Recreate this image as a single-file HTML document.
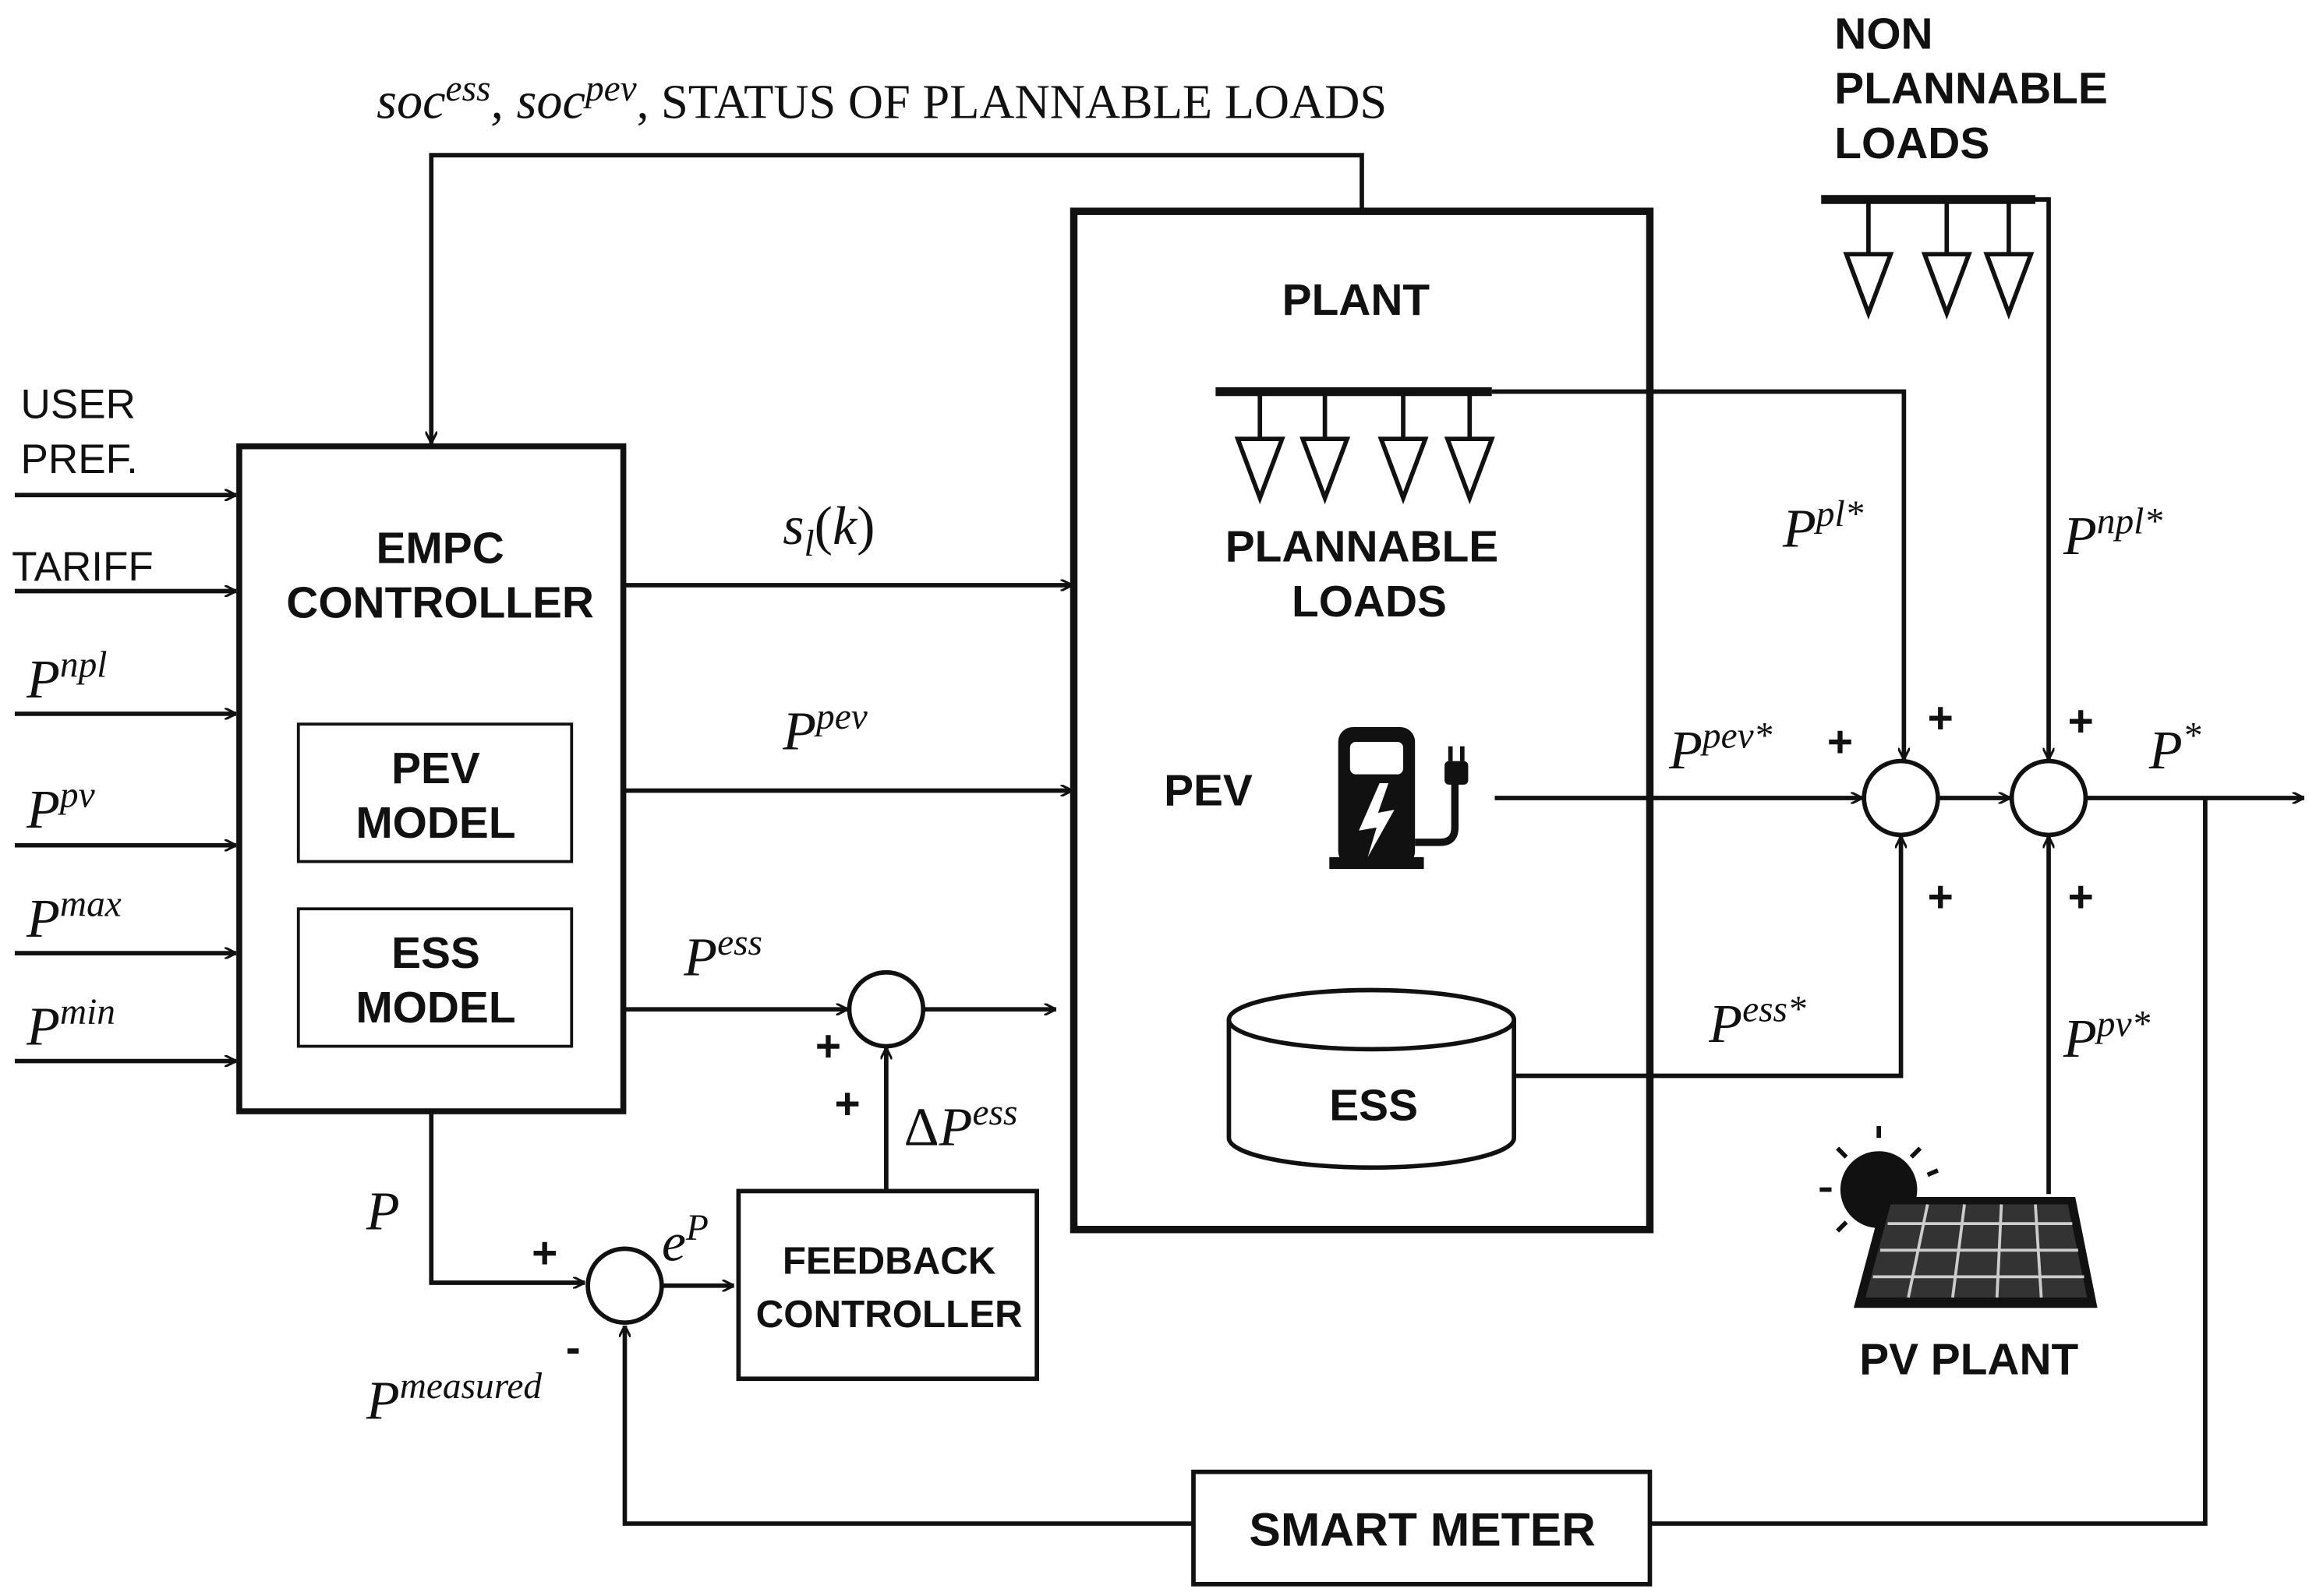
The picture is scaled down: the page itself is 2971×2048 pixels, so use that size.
<!DOCTYPE html>
<html><head><meta charset="utf-8"><style>
html,body{margin:0;padding:0;background:#fff;}
svg{display:block;}
.b{font-family:"Liberation Sans",sans-serif;font-weight:bold;font-size:30px;fill:#111;}
.s{font-family:"Liberation Sans",sans-serif;font-size:28px;fill:#111;}
.m{font-family:"Liberation Serif",serif;font-style:italic;font-size:37px;fill:#111;}
.sup{font-size:25px;}
.r{font-family:"Liberation Serif",serif;font-size:33px;fill:#111;}
</style></head><body>
<svg width="2971" height="2048" viewBox="0 0 1568 1080" preserveAspectRatio="none" xmlns="http://www.w3.org/2000/svg">
<defs>
<marker id="a" viewBox="0 0 10 10" refX="10" refY="5" markerWidth="8" markerHeight="8" orient="auto" markerUnits="userSpaceOnUse">
<path d="M0,0 L10,5 L0,10" fill="none" stroke="#111" stroke-width="2"/>
</marker>
</defs>
<rect width="1568" height="1080" fill="#fff"/>
<g stroke="#111" stroke-width="3" fill="none">
<polyline points="922,143 922,105 292,105 292,300" marker-end="url(#a)"/>
<line x1="10" y1="335" x2="160" y2="335" marker-end="url(#a)"/>
<line x1="10" y1="400" x2="160" y2="400" marker-end="url(#a)"/>
<line x1="10" y1="483" x2="160" y2="483" marker-end="url(#a)"/>
<line x1="10" y1="572" x2="160" y2="572" marker-end="url(#a)"/>
<line x1="10" y1="645" x2="160" y2="645" marker-end="url(#a)"/>
<line x1="10" y1="718" x2="160" y2="718" marker-end="url(#a)"/>
<line x1="422" y1="396" x2="726" y2="396" marker-end="url(#a)"/>
<line x1="422" y1="535" x2="726" y2="535" marker-end="url(#a)"/>
<line x1="422" y1="683" x2="574" y2="683" marker-end="url(#a)"/>
<circle cx="600" cy="683" r="25"/>
<line x1="625" y1="683" x2="715" y2="683" marker-end="url(#a)"/>
<line x1="600" y1="806" x2="600" y2="709" marker-end="url(#a)"/>
<polyline points="292,752 292,868 396,868" marker-end="url(#a)"/>
<circle cx="423" cy="870" r="25"/>
<line x1="448" y1="870" x2="497" y2="870" marker-end="url(#a)"/>
<polyline points="808,1031 423,1031 423,897" marker-end="url(#a)"/>
<polyline points="1117,1031 1493,1031 1493,540"/>
<line x1="1012" y1="540" x2="1261" y2="540" marker-end="url(#a)"/>
<polyline points="1010,265 1289,265 1289,514" marker-end="url(#a)"/>
<polyline points="1025,728 1287,728 1287,566" marker-end="url(#a)"/>
<circle cx="1287" cy="540" r="25"/>
<line x1="1312" y1="540" x2="1361" y2="540" marker-end="url(#a)"/>
<circle cx="1387" cy="540" r="25"/>
<line x1="1412" y1="540" x2="1560" y2="540" marker-end="url(#a)"/>
<polyline points="1378,135 1387,135 1387,514" marker-end="url(#a)"/>
<line x1="1387" y1="808" x2="1387" y2="566" marker-end="url(#a)"/>
<rect x="162" y="302" width="260" height="450" stroke-width="4"/>
<rect x="202" y="490" width="185" height="93" stroke-width="2"/>
<rect x="202" y="615" width="185" height="93" stroke-width="2"/>
<rect x="727" y="143" width="390" height="689" stroke-width="5"/>
<rect x="500" y="806" width="202" height="127" stroke-width="3"/>
<rect x="808" y="996" width="309" height="76" stroke-width="3"/>
<line x1="823" y1="265" x2="1010" y2="265" stroke-width="6"/>
<g stroke-width="3">
<line x1="853" y1="265" x2="853" y2="297"/><polygon points="838,297 868,297 853,337"/>
<line x1="897" y1="265" x2="897" y2="297"/><polygon points="882,297 912,297 897,337"/>
<line x1="950" y1="265" x2="950" y2="297"/><polygon points="935,297 965,297 950,337"/>
<line x1="995" y1="265" x2="995" y2="297"/><polygon points="980,297 1010,297 995,337"/>
</g>
<line x1="1233" y1="135" x2="1378" y2="135" stroke-width="6"/>
<line x1="1265" y1="135" x2="1265" y2="172"/><polygon points="1250,172 1280,172 1265,212"/>
<line x1="1318" y1="135" x2="1318" y2="172"/><polygon points="1303,172 1333,172 1318,212"/>
<line x1="1360" y1="135" x2="1360" y2="172"/><polygon points="1345,172 1375,172 1360,212"/>
<path d="M832,690 L832,770 A96,20 0 0 0 1025,770 L1025,690" stroke-width="3"/>
<ellipse cx="928.5" cy="690" rx="96.5" ry="20" stroke-width="3"/>
</g>
<g>
<rect x="906" y="492" width="52" height="94" rx="10" fill="#111"/>
<rect x="914" y="502" width="36" height="22" rx="4" fill="#fff"/>
<polygon points="934,530 920,562 932,560 926,580 944,548 933,550 940,530" fill="#fff"/>
<rect x="900" y="580" width="64" height="8" fill="#111"/>
<path d="M958,570 L975,570 Q985,570 985,560 L985,530" stroke="#111" stroke-width="5" fill="none"/>
<rect x="978" y="515" width="16" height="16" rx="3" fill="#111"/>
<line x1="982" y1="505" x2="982" y2="515" stroke="#111" stroke-width="3"/>
<line x1="990" y1="505" x2="990" y2="515" stroke="#111" stroke-width="3"/>
</g>
<g>
<circle cx="1272" cy="805" r="26" fill="#111"/>
<g stroke="#111" stroke-width="3">
<line x1="1272" y1="770" x2="1272" y2="762"/><line x1="1240" y1="805" x2="1232" y2="805"/>
<line x1="1250" y1="783" x2="1244" y2="777"/><line x1="1294" y1="783" x2="1300" y2="777"/>
<line x1="1250" y1="827" x2="1244" y2="833"/><line x1="1305" y1="795" x2="1312" y2="792"/>
</g>
<polygon points="1275,810 1405,810 1420,885 1255,885" fill="#111"/>
<polygon points="1280,815 1400,815 1413,878 1263,878" fill="#333"/>
<g stroke="#ccc" stroke-width="2">
<line x1="1278" y1="828" x2="1403" y2="828"/><line x1="1273" y1="846" x2="1407" y2="846"/><line x1="1268" y1="864" x2="1411" y2="864"/>
<line x1="1305" y1="815" x2="1292" y2="878"/><line x1="1330" y1="815" x2="1322" y2="878"/><line x1="1355" y1="815" x2="1352" y2="878"/><line x1="1378" y1="815" x2="1382" y2="878"/>
</g>
</g>
<text x="255" y="80" class="m" style="font-size:35px">soc<tspan class="sup" dy="-12">ess</tspan><tspan dy="12">, soc</tspan><tspan class="sup" dy="-12">pev</tspan><tspan dy="12" class="r" style="font-style:normal">, STATUS OF PLANNABLE LOADS</tspan></text>
<text x="1242" y="33" class="b">NON</text>
<text x="1242" y="70" class="b">PLANNABLE</text>
<text x="1242" y="107" class="b">LOADS</text>
<text x="14" y="283" class="s">USER</text>
<text x="14" y="320" class="s">PREF.</text>
<text x="8" y="393" class="s">TARIFF</text>
<text x="18" y="472" class="m">P<tspan class="sup" dy="-14">npl</tspan></text>
<text x="18" y="560" class="m">P<tspan class="sup" dy="-14">pv</tspan></text>
<text x="18" y="634" class="m">P<tspan class="sup" dy="-14">max</tspan></text>
<text x="18" y="707" class="m">P<tspan class="sup" dy="-14">min</tspan></text>
<text x="298" y="381" class="b" text-anchor="middle">EMPC</text>
<text x="298" y="418" class="b" text-anchor="middle">CONTROLLER</text>
<text x="295" y="530" class="b" text-anchor="middle">PEV</text>
<text x="295" y="567" class="b" text-anchor="middle">MODEL</text>
<text x="295" y="655" class="b" text-anchor="middle">ESS</text>
<text x="295" y="692" class="b" text-anchor="middle">MODEL</text>
<text x="918" y="213" class="b" text-anchor="middle">PLANT</text>
<text x="922" y="380" class="b" text-anchor="middle">PLANNABLE</text>
<text x="927" y="417" class="b" text-anchor="middle">LOADS</text>
<text x="788" y="545" class="b">PEV</text>
<text x="930" y="758" class="b" text-anchor="middle">ESS</text>
<text x="602" y="862" class="b" text-anchor="middle" style="font-size:26px">FEEDBACK</text>
<text x="602" y="898" class="b" text-anchor="middle" style="font-size:26px">CONTROLLER</text>
<text x="963" y="1046" class="b" text-anchor="middle" style="font-size:32px">SMART METER</text>
<text x="1333" y="930" class="b" text-anchor="middle">PV PLANT</text>
<text x="530" y="368" class="m">s<tspan class="sup" dy="8">l</tspan><tspan dy="-8" style="font-style:normal">(</tspan>k<tspan style="font-style:normal">)</tspan></text>
<text x="530" y="507" class="m">P<tspan class="sup" dy="-14">pev</tspan></text>
<text x="463" y="660" class="m">P<tspan class="sup" dy="-14">ess</tspan></text>
<text x="612" y="775" class="m"><tspan style="font-style:normal">Δ</tspan>P<tspan class="sup" dy="-14">ess</tspan></text>
<text x="248" y="832" class="m">P</text>
<text x="448" y="853" class="m">e<tspan class="sup" dy="-14">P</tspan></text>
<text x="248" y="960" class="m">P<tspan class="sup" dy="-14">measured</tspan></text>
<text x="1207" y="370" class="m">P<tspan class="sup" dy="-14">pl*</tspan></text>
<text x="1397" y="375" class="m">P<tspan class="sup" dy="-14">npl*</tspan></text>
<text x="1130" y="520" class="m">P<tspan class="sup" dy="-14">pev*</tspan></text>
<text x="1157" y="705" class="m">P<tspan class="sup" dy="-14">ess*</tspan></text>
<text x="1397" y="715" class="m">P<tspan class="sup" dy="-14">pv*</tspan></text>
<text x="1455" y="520" class="m">P<tspan class="sup" dy="-14">*</tspan></text>
<g class="b" style="font-size:30px">
<text x="552" y="718">+</text><text x="565" y="757">+</text>
<text x="360" y="858">+</text><text x="383" y="922">-</text>
<text x="1237" y="512">+</text><text x="1305" y="496">+</text><text x="1305" y="617">+</text>
<text x="1400" y="498">+</text><text x="1400" y="617">+</text>
</g>
</svg>
</body></html>
